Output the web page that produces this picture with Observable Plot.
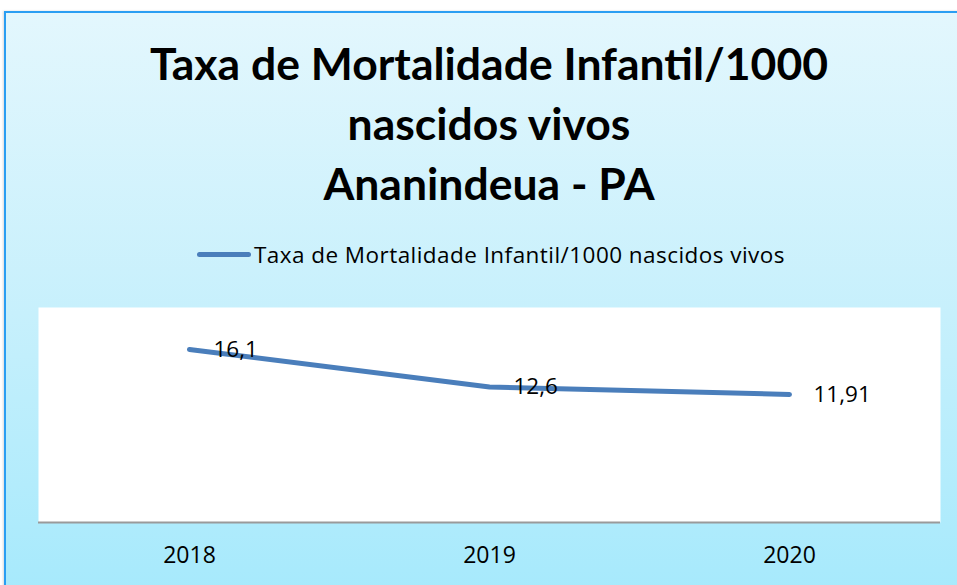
<!DOCTYPE html>
<html>
<head>
<meta charset="utf-8">
<script src="https://cdn.jsdelivr.net/npm/d3@7"></script>
<script src="https://cdn.jsdelivr.net/npm/@observablehq/plot@0.6"></script>
<style>
  html, body { margin: 0; padding: 0; background: #fff; }
  #page { position: relative; width: 957px; height: 585px; overflow: hidden; font-family: "Open Sans", Lato, sans-serif; }
  #frame { position: absolute; left: 4px; top: 11px; width: 980px; height: 600px;
           border-left: 2px solid #2a9ef2; border-top: 2px solid #2a9ef2;
           background: linear-gradient(to bottom, #e3f7fd 0%, #c7f0fc 50%, #a4e9fc 100%);
           box-shadow: -1px 0 2px rgba(0,0,0,0.15); }
  #title { position: absolute; left: 0; width: 978px; top: 33px; text-align: center; font-family: Lato, sans-serif;
           font-weight: 700; font-size: 44.5px; line-height: 60px; color: #000; }
  #legend { position: absolute; top: 239px; left: 197px; height: 30px; display: flex; align-items: center;
            font-size: 22.5px; letter-spacing: 0.45px; color: #000; white-space: nowrap; }
  #legend .sw { display: inline-block; width: 54px; height: 5px; border-radius: 3px; background: #4a7ebb; margin-right: 3px; }
  #chart { position: absolute; left: 0; top: 290px; }
</style>
</head>
<body>
<div id="page">
  <div id="frame"></div>
  <div id="title">Taxa de Mortalidade Infantil/1000<br>nascidos vivos<br>Ananindeua - PA</div>
  <div id="legend"><span class="sw"></span><span>Taxa de Mortalidade Infantil/1000 nascidos vivos</span></div>
  <div id="chart"></div>
</div>
<script>
const years = ["2018", "2019", "2020"];
const values = [16.1, 12.6, 11.91];
const valueLabels = ["16,1", "12,6", "11,91"];

const data = years.map((y, i) => ({year: y, value: values[i], label: valueLabels[i]}));

const chart = Plot.plot({
  width: 957,
  height: 295,
  marginLeft: 38,
  marginRight: 17,
  marginTop: 17,
  marginBottom: 63,
  style: {background: "transparent", fontFamily: "'Open Sans', Lato, sans-serif", color: "#000"},
  x: {type: "point", domain: years, padding: 0.5, label: null},
  y: {domain: [0, 20], axis: null},
  marks: [
    Plot.frame({fill: "white", stroke: null}),
    Plot.ruleY([0], {stroke: "#9a9a9a", strokeWidth: 2}),
    Plot.lineY(data, {x: "year", y: "value", stroke: "#4a7ebb", strokeWidth: 5, strokeLinecap: "round", strokeLinejoin: "round"}),
    Plot.text(data, {x: "year", y: "value", text: "label", dx: 24, textAnchor: "start", fontSize: 22.5, fill: "#000"}),
    Plot.axisX({tickSize: 0, tickPadding: 24, fontSize: 23, label: null, fill: "#000"})
  ]
});
document.getElementById("chart").appendChild(chart);
</script>
</body>
</html>
